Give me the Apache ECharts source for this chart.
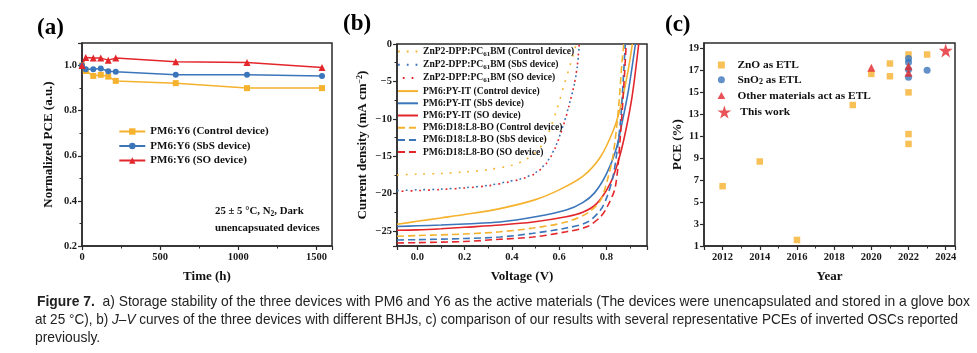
<!DOCTYPE html>
<html><head><meta charset="utf-8">
<script src="https://cdn.jsdelivr.net/npm/echarts@6/dist/echarts.min.js"></script>
<style>html,body{margin:0;padding:0;background:#fff}#c{width:977px;height:353px}</style>
</head><body><div id="c"></div>
<script>
// ---------- Panel (a): storage stability ----------
const timeH = [0, 24, 72, 120, 168, 216, 600, 1056, 1536];
const pceControl = [1.0, 0.976, 0.954, 0.959, 0.951, 0.932, 0.922, 0.900, 0.900];
const pceSbS     = [1.0, 0.984, 0.984, 0.987, 0.975, 0.972, 0.959, 0.959, 0.954];
const pceSO      = [1.0, 1.036, 1.033, 1.033, 1.024, 1.033, 1.017, 1.013, 0.991];
const namesA = ['PM6:Y6 (Control device)', 'PM6:Y6 (SbS device)', 'PM6:Y6 (SO device)'];

// ---------- Panel (b): J-V curves [V, J] ----------
const znpControl = [[-0.086,-17.5],[0,-17.4],[0.1,-17.3],[0.2,-17.1],[0.3,-16.8],[0.4,-16.2],[0.45,-15.6],[0.5,-14.5],[0.53,-13.4],[0.56,-11.5],[0.59,-8.8],[0.62,-5.6],[0.645,-3.0],[0.665,-0.9],[0.672,0]];
const znpSbS = [[-0.086,-19.6],[0,-19.5],[0.1,-19.4],[0.2,-19.2],[0.3,-18.9],[0.38,-18.4],[0.44,-18.0],[0.5,-17.2],[0.55,-15.7],[0.585,-13.7],[0.62,-10.6],[0.64,-8.4],[0.665,-5.3],[0.678,-2.8],[0.686,0]];
const znpSO  = [[-0.086,-19.7],[0,-19.6],[0.1,-19.45],[0.2,-19.25],[0.3,-18.95],[0.38,-18.5],[0.44,-18.05],[0.5,-17.3],[0.55,-15.8],[0.585,-13.8],[0.62,-10.7],[0.64,-8.5],[0.664,-5.4],[0.677,-2.9],[0.685,0]];
const pyControl = [[-0.086,-24.1],[0,-23.7],[0.1,-23.25],[0.2,-22.8],[0.35,-22.0],[0.5,-20.8],[0.6,-19.5],[0.7,-17.7],[0.775,-15.1],[0.83,-11.5],[0.86,-8.4],[0.89,-3.9],[0.91,0]];
const pySbS = [[-0.086,-24.4],[0,-24.3],[0.1,-24.2],[0.2,-24.05],[0.35,-23.8],[0.5,-23.1],[0.63,-22.2],[0.7,-21.2],[0.75,-19.9],[0.8,-17.4],[0.84,-14.2],[0.866,-10.6],[0.894,-6.1],[0.923,0]];
const pySO  = [[-0.086,-24.9],[0,-24.85],[0.1,-24.7],[0.2,-24.5],[0.35,-24.2],[0.49,-23.8],[0.63,-23.1],[0.7,-22.5],[0.76,-21.3],[0.817,-18.6],[0.852,-15.5],[0.88,-11.9],[0.909,-7.0],[0.937,0]];
const d18Control = [[-0.086,-25.7],[0,-25.6],[0.2,-25.4],[0.35,-25.1],[0.49,-24.6],[0.63,-23.8],[0.72,-22.6],[0.775,-20.9],[0.81,-17.5],[0.83,-14.6],[0.852,-8.4],[0.866,-2.5],[0.874,0]];
const d18SbS = [[-0.086,-26.2],[0,-26.15],[0.2,-26.0],[0.35,-25.8],[0.49,-25.3],[0.63,-24.6],[0.72,-23.8],[0.775,-22.2],[0.803,-20.4],[0.831,-17.3],[0.859,-10.6],[0.872,-4.5],[0.88,0]];
const d18SO  = [[-0.086,-26.6],[0,-26.55],[0.2,-26.4],[0.35,-26.1],[0.49,-25.8],[0.63,-25.1],[0.72,-24.4],[0.775,-23.1],[0.803,-21.8],[0.838,-19.1],[0.86,-12.0],[0.875,-5.0],[0.884,0]];
const namesB = ['ZnP2-DPP:PC61BM (Control device)','ZnP2-DPP:PC61BM (SbS device)','ZnP2-DPP:PC61BM (SO device)',
  'PM6:PY-IT (Control device)','PM6:PY-IT (SbS device)','PM6:PY-IT (SO device)',
  'PM6:D18:L8-BO (Control device)','PM6:D18:L8-BO (SbS device)','PM6:D18:L8-BO (SO device)'];

// ---------- Panel (c): PCE comparison ----------
const znoYear = [2012, 2014, 2016, 2019, 2020, 2021, 2021, 2022, 2022, 2022, 2022, 2023];
const znoPce  = [6.45, 8.7, 1.55, 13.85, 16.69, 17.63, 16.47, 18.45, 15.0, 11.2, 10.3, 18.45];
const sno2Year = [2022, 2022, 2022, 2022, 2023];
const sno2Pce  = [18.09, 17.75, 17.08, 16.38, 17.02];
const otherYear = [2020, 2022, 2022];
const otherPce  = [17.24, 17.38, 16.78];
const thisYear = [2024];
const thisPce  = [18.82];
const namesC = ['ZnO as ETL', 'SnO2 as ETL', 'Other materials act as ETL', 'This work'];

// ---------- caption ----------
const captionLines = [
  [['Figure 7.', 'bold'], ['  a) Storage stability of the three devices with PM6 and Y6 as the active materials (The devices were unencapsulated and stored in a glove box', '']],
  [['at 25 \u00b0C), b) ', ''], ['J\u2013V', 'italic'], [' curves of the three devices with different BHJs, c) comparison of our results with several representative PCEs of inverted OSCs reported', '']],
  [['previously.', '']]
];

// ---------- styling ----------
const SERIF = '"Liberation Serif","Times New Roman",serif';
const SANS = '"Liberation Sans",Arial,sans-serif';
const ORANGE = '#F5B22E', BLUE = '#3B75BA', RED = '#E2262B';
const AX = '#2b2b2b';
const STAR = 'path://M50,0 L61.2,34.5 L97.6,34.5 L68.2,55.9 L79.4,90.5 L50,69.1 L20.6,90.5 L31.8,55.9 L2.4,34.5 L38.8,34.5 Z';
const RECT = 'path://M0,0 L10,0 L10,10 L0,10 Z';
const TRI = 'path://M5,0 L10,9 L0,9 Z';
const CIRC = 'path://M10,5 A5,5 0 1,1 0,5 A5,5 0 1,1 10,5 Z';
const zip = (a, b) => a.map((v, i) => [v, b[i]]);

function axisBase(extra) {
  return Object.assign({
    type: 'value',
    splitLine: { show: false },
    axisLine: { show: true, onZero: false, lineStyle: { color: AX, width: 1.5 } },
    axisTick: { show: true, length: 4, lineStyle: { color: AX, width: 1.2 } },
    minorTick: { show: true, splitNumber: 2, length: 2.5, lineStyle: { color: AX, width: 1 } },
    axisLabel: { fontFamily: SERIF, fontWeight: 'bold', fontSize: 10.5, color: '#1a1a1a', margin: 6, showMaxLabel: false, formatter: v => String(v) },
    nameLocation: 'middle',
    nameTextStyle: { fontFamily: SERIF, fontWeight: 'bold', fontSize: 13, color: '#111' }
  }, extra);
}
const gridBox = { show: true, borderColor: AX, borderWidth: 1.5 };
const minus = v => (v < 0 ? '\u2212' + Math.abs(v) : String(v));
const lab = (extra) => Object.assign({ fontFamily: SERIF, fontWeight: 'bold', fontSize: 10.5, color: '#1a1a1a', margin: 6 }, extra);

// caption: measure and condense to the reference line widths
const mctx = document.createElement('canvas').getContext('2d');
const CAP_SIZE = 15;
function segFont(st) { return (st ? st + ' ' : '') + CAP_SIZE + 'px ' + SANS; }
function lineWidth(line) { return line.reduce((w, s) => { mctx.font = segFont(s[1]); return w + mctx.measureText(s[0]).width; }, 0); }
const capTargets = [933, 923, null];
const capX = [37, 35, 35], capY = [294, 312, 330];
const refScale = capTargets[0] / lineWidth(captionLines[0]);
const captionGraphics = captionLines.map((line, i) => {
  const sc = capTargets[i] ? capTargets[i] / lineWidth(line) : refScale;
  return {
    type: 'text', x: capX[i], y: capY[i], scaleX: sc,
    style: {
      text: line.map(s => s[1] ? '{' + s[1] + '|' + s[0] + '}' : s[0]).join(''),
      font: segFont(''), fill: '#222',
      rich: { bold: { font: segFont('bold'), fill: '#222' }, italic: { font: segFont('italic'), fill: '#222' } }
    }
  };
});

const option = {
  animation: false,
  backgroundColor: '#fff',
  grid: [
    Object.assign({ left: 82, top: 43, width: 250, height: 203 }, gridBox),
    Object.assign({ left: 397, top: 44, width: 250, height: 202 }, gridBox),
    Object.assign({ left: 704, top: 43, width: 251, height: 203 }, gridBox)
  ],
  xAxis: [
    axisBase({ gridIndex: 0, min: 0, max: 1600, interval: 500, name: 'Time (h)', nameGap: 24 }),
    axisBase({ gridIndex: 1, min: -0.086, max: 0.972, splitNumber: 5, name: 'Voltage (V)', nameGap: 24,
      axisLabel: lab({ showMinLabel: false, showMaxLabel: false, formatter: v => v.toFixed(1) }) }),
    axisBase({ gridIndex: 2, min: 2011, max: 2024.5, splitNumber: 6, name: 'Year', nameGap: 24,
      axisLabel: lab({ showMinLabel: false, showMaxLabel: false, formatter: v => String(v) }) })
  ],
  yAxis: [
    axisBase({ gridIndex: 0, min: 0.2, max: 1.1, interval: 0.2, name: 'Normalized PCE (a.u.)', nameGap: 27,
      axisLabel: lab({ margin: 5, showMaxLabel: false, formatter: v => v.toFixed(1) }) }),
    axisBase({ gridIndex: 1, min: -27, max: 0, splitNumber: 5, name: 'Current density (mA cm{sup|\u22122})', nameGap: 27,
      nameTextStyle: { fontFamily: SERIF, fontWeight: 'bold', fontSize: 13, color: '#111',
        rich: { sup: { fontFamily: SERIF, fontWeight: 'bold', fontSize: 8, verticalAlign: 'top', padding: [0, 0, 6, 0] } } },
      axisLabel: lab({ margin: 5, showMinLabel: false, formatter: minus }) }),
    axisBase({ gridIndex: 2, min: 1, max: 19.5, interval: 2, name: 'PCE (%)', nameGap: 15,
      minorTick: { show: false },
      axisLabel: lab({ margin: 5, showMaxLabel: false, formatter: v => String(v) }) })
  ],
  legend: [
    { data: namesA, orient: 'vertical', left: 118.3, top: 126, padding: 0, itemWidth: 26, itemHeight: 8, itemGap: 3.5,
      textStyle: { fontFamily: SERIF, fontWeight: 'bold', fontSize: 11, color: '#111' } },
    { data: namesB, orient: 'vertical', left: 397, top: 46.5, padding: 0, itemWidth: 20, itemHeight: 8, itemGap: 2.2,
      itemStyle: { color: 'rgba(0,0,0,0)', borderWidth: 0, opacity: 0 },
      formatter: n => n.replace('PC61BM', 'PC{sub|61}BM'),
      textStyle: { fontFamily: SERIF, fontWeight: 'bold', fontSize: 9.6, color: '#111',
        rich: { sub: { fontFamily: SERIF, fontWeight: 'bold', fontSize: 7, verticalAlign: 'bottom', padding: [5, 0, 0, 0] } } } },
    { data: namesC.slice(0, 3), orient: 'vertical', left: 717.5, top: 59.5, padding: 0, itemWidth: 22, itemHeight: 7, itemGap: 3.8,
      formatter: n => n.replace('SnO2', 'SnO{sub|2}'),
      textStyle: { fontFamily: SERIF, fontWeight: 'bold', fontSize: 11.4, color: '#111',
        rich: { sub: { fontFamily: SERIF, fontWeight: 'bold', fontSize: 8, verticalAlign: 'bottom', padding: [5, 0, 0, 0] } } } },
    { data: namesC.slice(3), orient: 'vertical', left: 717.5, top: 105.5, padding: 0, itemWidth: 22, itemHeight: 13,
      textStyle: { fontFamily: SERIF, fontWeight: 'bold', fontSize: 11.4, color: '#111' } }
  ],
  series: [
    // (a)
    { name: namesA[0], type: 'line', xAxisIndex: 0, yAxisIndex: 0, data: zip(timeH, pceControl), symbol: 'rect', symbolSize: 6,
      itemStyle: { color: ORANGE }, lineStyle: { color: ORANGE, width: 1.5 } },
    { name: namesA[1], type: 'line', xAxisIndex: 0, yAxisIndex: 0, data: zip(timeH, pceSbS), symbol: 'circle', symbolSize: 6,
      itemStyle: { color: BLUE }, lineStyle: { color: BLUE, width: 1.5 } },
    { name: namesA[2], type: 'line', xAxisIndex: 0, yAxisIndex: 0, data: zip(timeH, pceSO), symbol: 'triangle', symbolSize: 7,
      itemStyle: { color: RED }, lineStyle: { color: RED, width: 1.5 } },
    // (b)
    ...[[znpControl, ORANGE, [1.8, 7]], [znpSbS, BLUE, [1.8, 7]], [znpSO, RED, [1.8, 7]],
        [pyControl, ORANGE, 'solid'], [pySbS, BLUE, 'solid'], [pySO, RED, 'solid'],
        [d18Control, ORANGE, [7, 4]], [d18SbS, BLUE, [7, 4]], [d18SO, RED, [7, 4]]].map((s, i) => ({
      name: namesB[i], type: 'line', xAxisIndex: 1, yAxisIndex: 1, data: s[0], showSymbol: false, symbol: 'none',
      smooth: 0.3, clip: true, itemStyle: { color: s[1] },
      lineStyle: { color: s[1], width: 1.6, type: s[2], dashOffset: i === 2 ? 4 : 0 }
    })),
    // (c)
    { name: namesC[0], type: 'scatter', xAxisIndex: 2, yAxisIndex: 2, data: zip(znoYear, znoPce), symbol: RECT, symbolSize: 6.5, itemStyle: { color: ORANGE } },
    { name: namesC[1], type: 'scatter', xAxisIndex: 2, yAxisIndex: 2, data: zip(sno2Year, sno2Pce), symbol: CIRC, symbolSize: 7, itemStyle: { color: BLUE } },
    { name: namesC[2], type: 'scatter', xAxisIndex: 2, yAxisIndex: 2, data: zip(otherYear, otherPce), symbol: TRI, symbolSize: 8, itemStyle: { color: RED } },
    { name: namesC[3], type: 'scatter', xAxisIndex: 2, yAxisIndex: 2, data: zip(thisYear, thisPce), symbol: STAR, symbolSize: 14, itemStyle: { color: RED } }
  ],
  graphic: [
    { type: 'text', x: 37, y: 17, style: { text: '(a)', font: 'bold 23px ' + SERIF, fill: '#000' } },
    { type: 'text', x: 343, y: 13, style: { text: '(b)', font: 'bold 23px ' + SERIF, fill: '#000' } },
    { type: 'text', x: 665, y: 14, style: { text: '(c)', font: 'bold 23px ' + SERIF, fill: '#000' } },
    { type: 'text', x: 215, y: 205, style: { text: '25 \u00b1 5 \u00b0C, N{s|2}, Dark', font: 'bold 10.8px ' + SERIF, fill: '#111',
      rich: { s: { font: 'bold 7.5px ' + SERIF, verticalAlign: 'bottom', padding: [5, 0, 0, 0] } } } },
    { type: 'text', x: 215, y: 223, style: { text: 'unencapsuated devices', font: 'bold 10.8px ' + SERIF, fill: '#111' } },
    ...captionGraphics
  ]
};
const chart = echarts.init(document.getElementById('c'), null, { renderer: 'canvas' });
chart.setOption(option);
</script>
</body></html>
